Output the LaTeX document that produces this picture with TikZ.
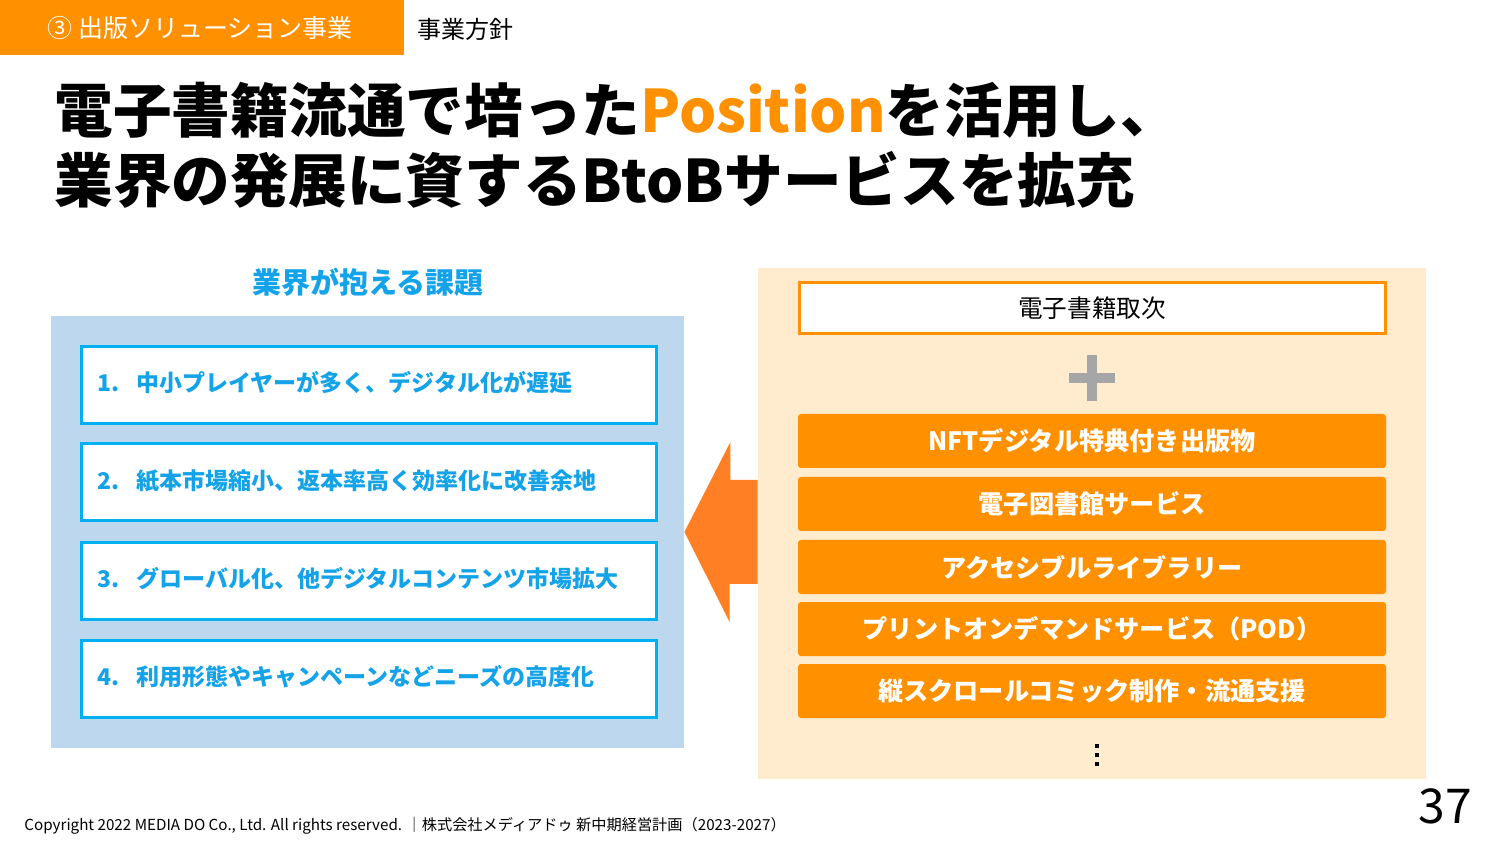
\documentclass[tikz,border=0pt]{standalone}
\usepackage{fontspec}
\setmainfont{Noto Sans CJK JP}
\usepackage{xcolor}
\usetikzlibrary{positioning}

\definecolor{mdorange}{RGB}{255,145,0}
\definecolor{arroworange}{RGB}{255,128,36}
\definecolor{issueblue}{RGB}{20,163,232}
\definecolor{boxblue}{RGB}{0,176,240}
\definecolor{panelblue}{RGB}{189,215,238}
\definecolor{panelbeige}{RGB}{255,235,205}
\definecolor{plusgray}{RGB}{166,166,166}

\tikzset{
  issuebox/.style={draw=boxblue,line width=1.5pt,fill=white,minimum width=287.5pt,minimum height=38.5pt},
  issuetext/.style={anchor=west,text=issueblue,font=\fontsize{11.5}{14}\selectfont\bfseries},
  servicebox/.style={fill=mdorange,rounded corners=1.5pt,minimum width=294pt,minimum height=27pt,
    text=white,font=\fontsize{12.6}{14}\selectfont\bfseries}
}

\begin{document}
\begin{tikzpicture}[x=1pt,y=-1pt]
    \useasboundingbox (0,0) rectangle (750,422);

    % Header
    \node[fill=mdorange,minimum width=202pt,minimum height=27.5pt,inner sep=0pt] (tab) at (101,13.75) {};
    \node[text=white,font=\fontsize{12.5}{14}\selectfont] (tabtext) at (100,14) {③ 出版ソリューション事業};
    \node[anchor=west,inner sep=0pt,font=\fontsize{12}{14}\selectfont] (policy) at (208.5,14.5) {事業方針};

    % Title
    \node[anchor=west,inner sep=0pt,font=\fontsize{29.3}{34}\selectfont\bfseries] (title1) at (27,55)
        {電子書籍流通で培った\textcolor{mdorange}{Position}を活用し、};
    \node[anchor=west,inner sep=0pt,font=\fontsize{29.3}{34}\selectfont\bfseries] (title2) at (27,90)
        {業界の発展に資するBtoBサービスを拡充};

    % Left panel
    \node[text=issueblue,font=\fontsize{14.5}{17}\selectfont\bfseries] (issuehead) at (184,141) {業界が抱える課題};
    \node[fill=panelblue,minimum width=316.5pt,minimum height=216pt,inner sep=0pt] (issuepanel) at (183.75,266) {};
    \node[issuebox] (issue1) at (184.25,192.5) {};
    \node[issuebox] (issue2) at (184.25,241.25) {};
    \node[issuebox] (issue3) at (184.25,290.5) {};
    \node[issuebox] (issue4) at (184.25,339.25) {};
    \node[issuetext] at (45,191.5) {1.\hspace{0.75em}中小プレイヤーが多く、デジタル化が遅延};
    \node[issuetext] at (45,240.5) {2.\hspace{0.75em}紙本市場縮小、返本率高く効率化に改善余地};
    \node[issuetext] at (45,289.5) {3.\hspace{0.75em}グローバル化、他デジタルコンテンツ市場拡大};
    \node[issuetext] at (45,338.5) {4.\hspace{0.75em}利用形態やキャンペーンなどニーズの高度化};

    % Right panel
    \node[fill=panelbeige,minimum width=334pt,minimum height=255.5pt,inner sep=0pt] (servicepanel) at (546,261.75) {};
    \node[draw=mdorange,line width=1.5pt,fill=white,minimum width=293pt,minimum height=25.5pt,
        font=\fontsize{12.3}{14}\selectfont] (agency) at (546,154.25) {電子書籍取次};
    \coordinate (plus) at (546,189);
    \draw[plusgray,line width=5pt] ([xshift=-11.5pt]plus) -- ([xshift=11.5pt]plus);
    \draw[plusgray,line width=5pt] ([yshift=-11.5pt]plus) -- ([yshift=11.5pt]plus);
    \node[servicebox] (svc1) at (546,220.5) {NFTデジタル特典付き出版物};
    \node[servicebox] (svc2) at (546,252) {電子図書館サービス};
    \node[servicebox] (svc3) at (546,283.5) {アクセシブルライブラリー};
    \node[servicebox] (svc4) at (546,314.5) {プリントオンデマンドサービス（POD）};
    \node[servicebox] (svc5) at (546,345.5) {縦スクロールコミック制作・流通支援};
    \foreach \y in {372,376.5,381}
        \fill (547.5,\y) rectangle ++(2,2);

    % Arrow
    \fill[arroworange] (issuepanel.east) -- ++(23,-45) -- ++(0,19) -- (servicepanel.west |- 0,240)
        -- (servicepanel.west |- 0,292) -- ++(-14,0) -- ++(0,19) -- cycle;

    % Footer
    \node[anchor=west,inner sep=0pt,font=\fontsize{7.6}{9}\selectfont] (copyright) at (12,413)
        {Copyright 2022 MEDIA DO Co., Ltd. All rights reserved. ｜株式会社メディアドゥ 新中期経営計画（2023-2027）};
    \node[font=\fontsize{24}{28}\selectfont] (pagenum) at (722.5,403) {37};
\end{tikzpicture}
\end{document}
